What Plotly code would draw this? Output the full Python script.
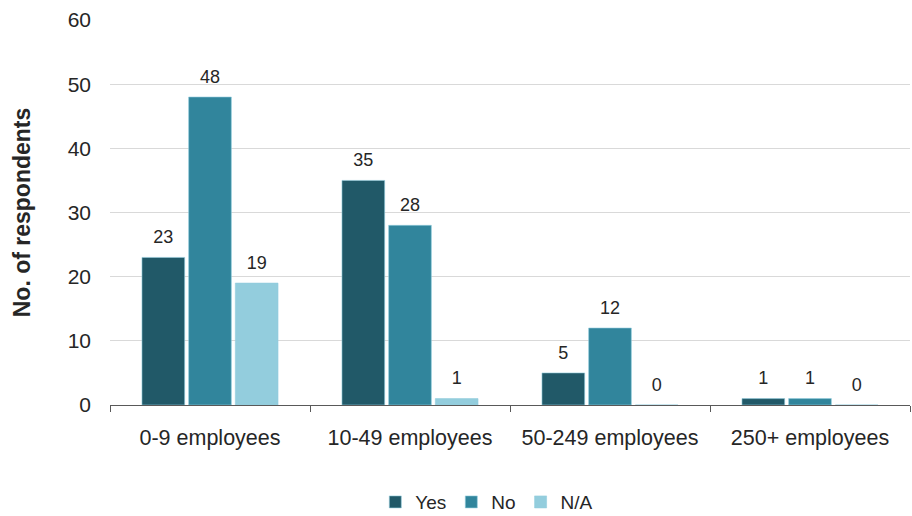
import plotly.graph_objects as go

categories = ["0-9 employees", "10-49 employees", "50-249 employees", "250+ employees"]
yes_vals = [23, 35, 5, 1]
no_vals = [48, 28, 12, 1]
na_vals = [19, 1, 0, 0]

series = [("Yes", yes_vals, "#215968"), ("No", no_vals, "#31859C"), ("N/A", na_vals, "#93CDDD")]
FONT = "Liberation Sans, Arial"

fig = go.Figure()
for i, (name, vals, color) in enumerate(series):
    fig.add_trace(go.Bar(
        x=categories, y=vals, name=name, offsetgroup=str(i),
        marker=dict(color=color, line=dict(color="rgba(147,205,221,0.6)", width=1)),
    ))
for i, (name, vals, color) in enumerate(series):
    fig.add_trace(go.Scatter(
        x=categories, y=vals, offsetgroup=str(i), mode="markers+text",
        marker=dict(size=14, opacity=0), showlegend=False, hoverinfo="skip",
        text=[str(v) for v in vals], textposition="top center",
        textfont=dict(size=18, color="#262626", family=FONT),
        cliponaxis=False,
    ))

fig.update_layout(
    width=912, height=516,
    margin=dict(l=110, r=2, t=20, b=111),
    plot_bgcolor="white", paper_bgcolor="white",
    barmode="group", bargap=0.30, bargroupgap=0.085,
    scattermode="group", scattergap=0.30,
    font=dict(family=FONT, size=20, color="#262626"),
    legend=dict(orientation="h", x=0.471, xanchor="center",
                yref="container", y=0.027, yanchor="middle",
                font=dict(size=19), traceorder="normal", itemwidth=30),
    xaxis=dict(showline=True, linecolor="#595959", linewidth=1, automargin=False,
               ticks="outside", tickson="boundaries", ticklen=6, tickcolor="#595959",
               tickfont=dict(size=21.5), ticklabelstandoff=13),
    yaxis=dict(range=[0, 60], dtick=10, showgrid=True, gridcolor="#d9d9d9", automargin=False,
               zeroline=False, showline=False, tickfont=dict(size=21), ticklabelstandoff=18,
               title=dict(text="<b>No. of respondents</b>", font=dict(size=23), standoff=30)),
)
fig.write_html("out.html")
